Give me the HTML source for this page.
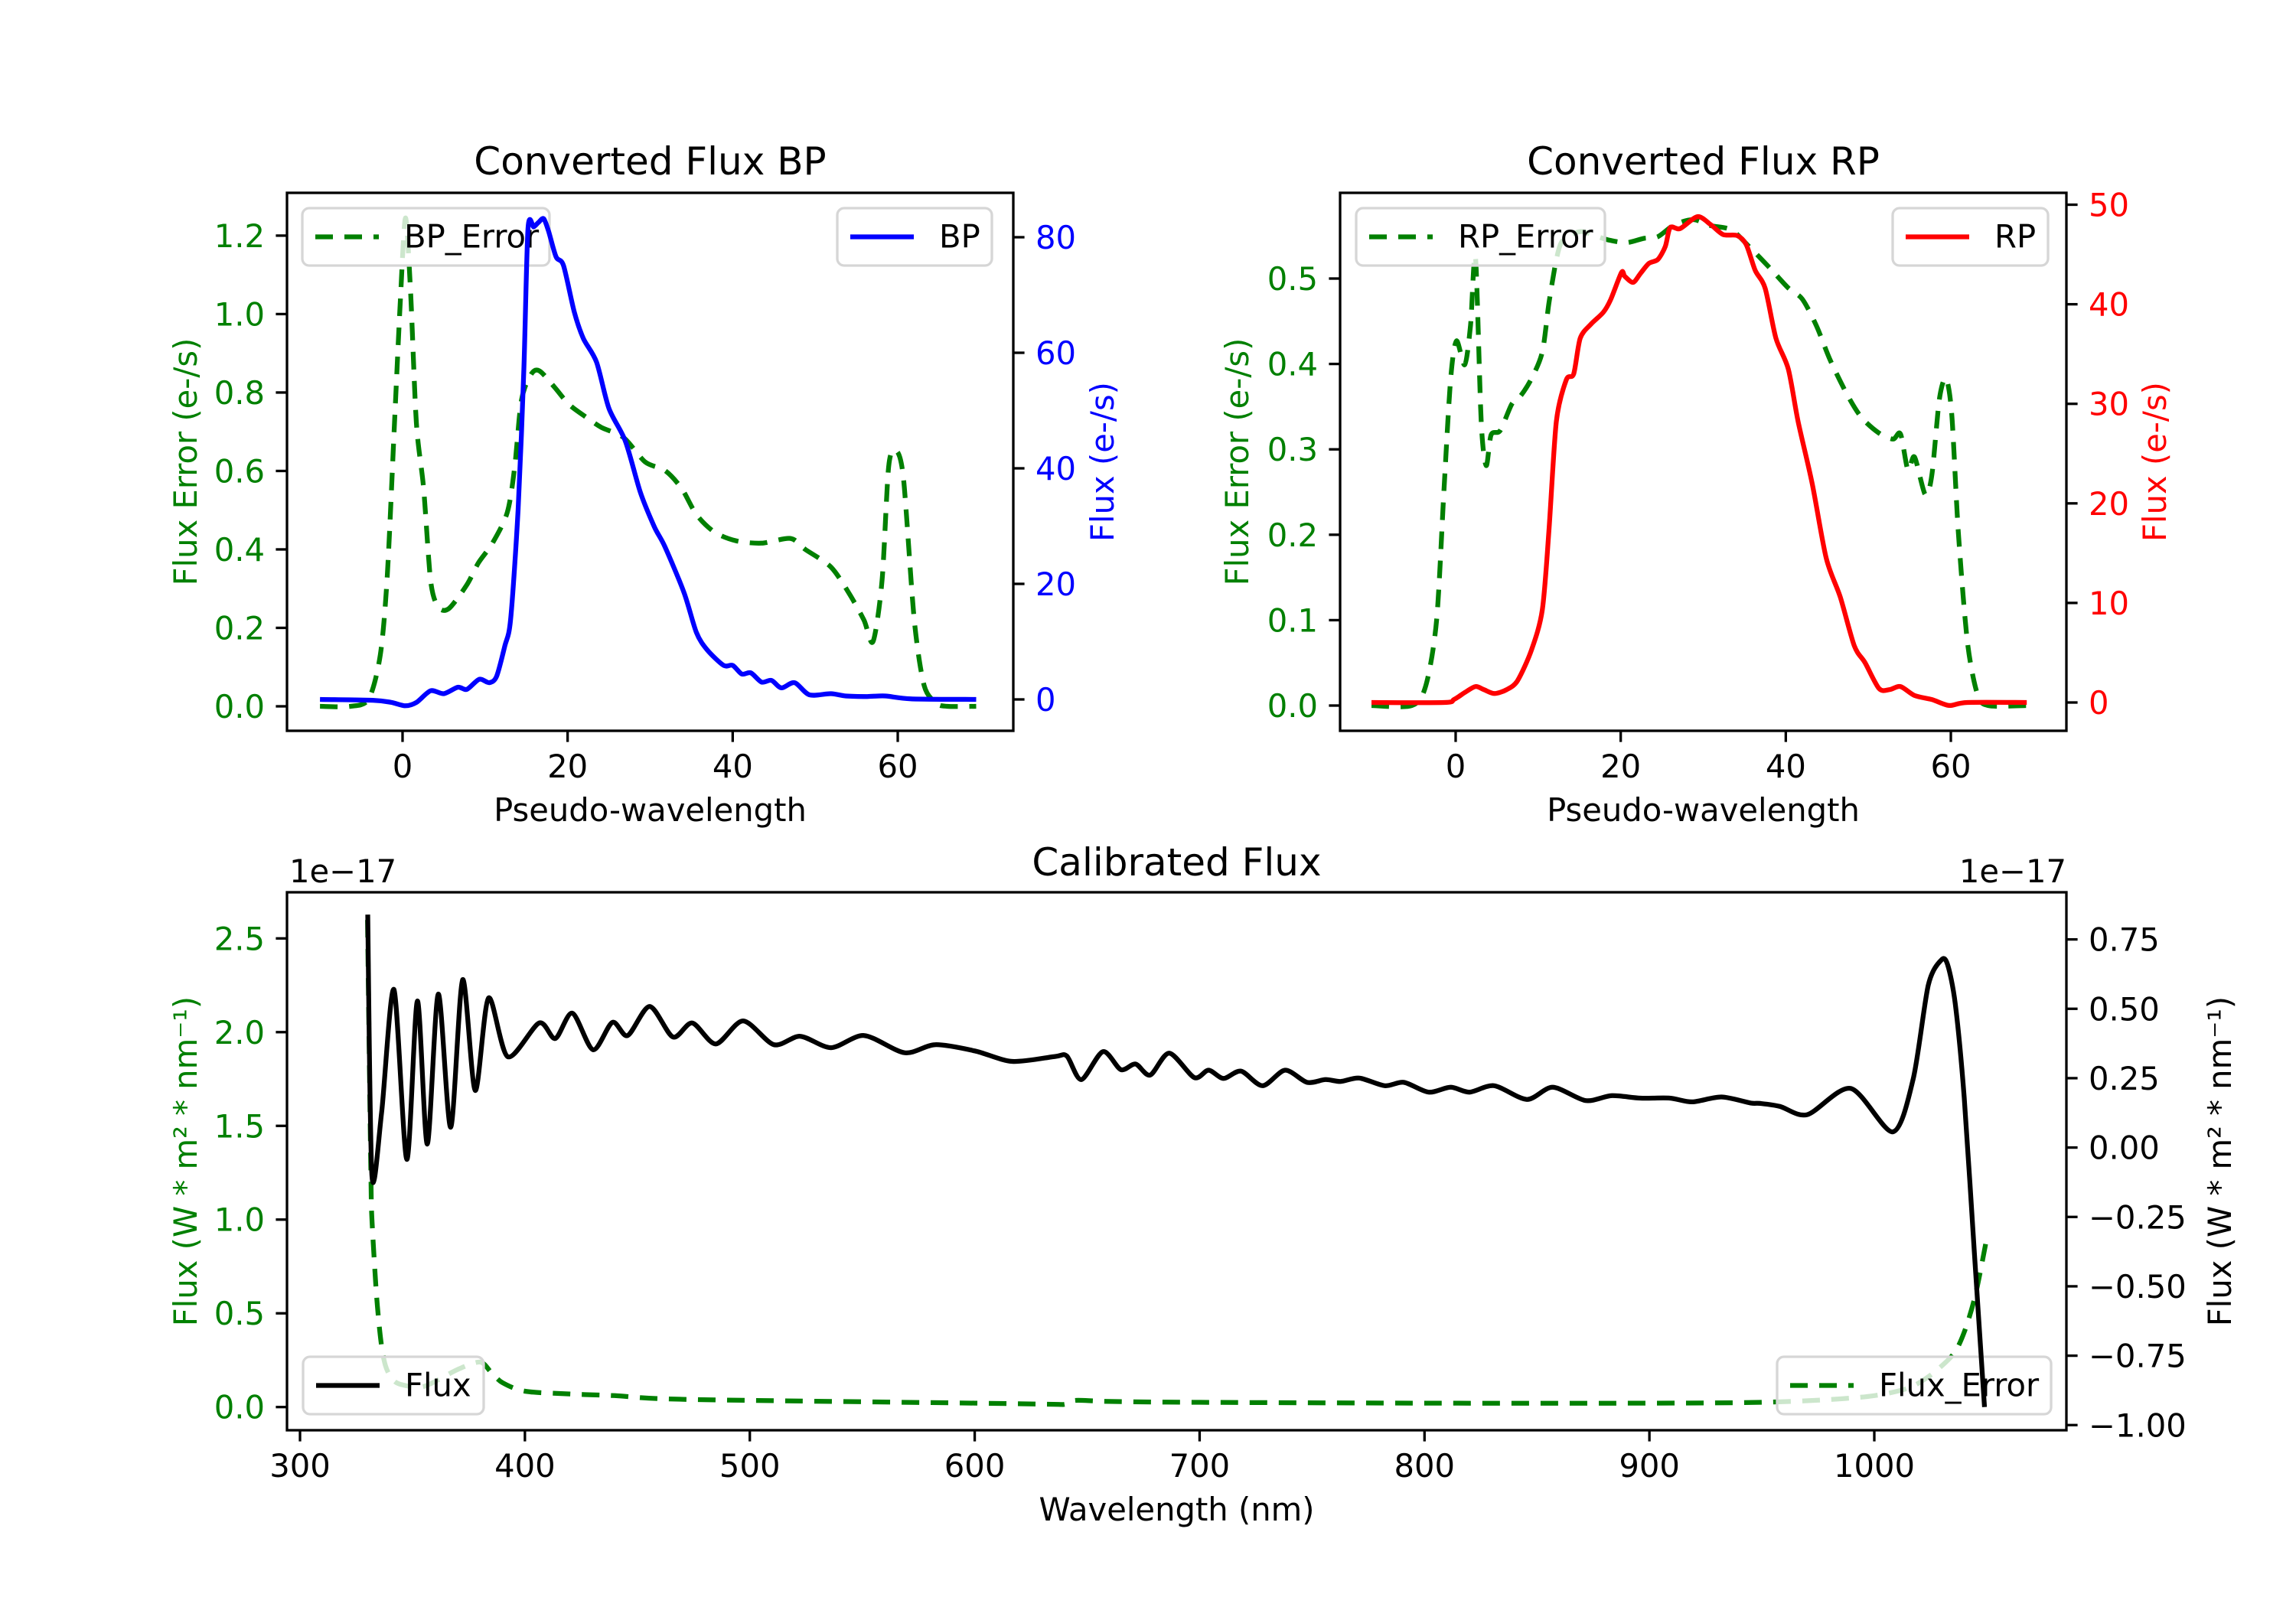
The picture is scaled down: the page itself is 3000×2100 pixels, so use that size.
<!DOCTYPE html>
<html><head><meta charset="utf-8"><style>
html,body{margin:0;padding:0;background:#fff}
svg{display:block}
text{font-family:"DejaVu Sans","Liberation Sans",sans-serif}
</style></head><body>
<svg id="fig" xmlns="http://www.w3.org/2000/svg" width="3000" height="2100" viewBox="0 0 3000 2100">
<rect x="0" y="0" width="3000" height="2100" fill="#fff"/>
</svg>
<script>
// ---------- data: BP panel ----------
const bpX = [-10,-3.6,-1.4,0.35,1.7,3.4,5.0,6.7,7.8,9.3,10.5,11.4,12.4,13.1,14.0,14.7,15.2,15.9,16.5,17.1,17.7,18.6,19.5,20.8,21.9,23.5,25.0,27.0,28.8,30.5,31.8,34.1,35.6,36.9,38.9,40.0,41.1,42.2,43.5,44.7,45.9,47.5,49.3,51.9,53.7,56.3,58.5,61.6,69.5];
const bpFlux = [0,-0.15,-0.5,-1.1,-0.5,1.5,1.0,2.1,1.75,3.5,2.9,4.0,9.3,13.9,32.9,57.2,81.5,81.8,82.6,83.2,81.0,76.6,75.1,67.1,62.5,58.4,50.4,44.7,35.9,29.9,26.4,18.5,11.6,8.6,5.9,5.9,4.4,4.6,3.0,3.3,2.0,2.9,0.8,1.0,0.6,0.5,0.6,0.1,0];
const bpErrX = [-10,-6.3,-4.1,-2.7,-1.85,-0.97,-0.26,0.35,0.97,1.67,2.55,3.4,4.3,5.6,7.8,9.2,10.9,12.7,13.6,14.4,15.6,16.6,18.4,20.2,22.4,24.1,26.8,29.4,31.8,33.8,35.6,37.8,40.4,43.5,47.0,48.8,51.9,54.1,55.9,57.0,58.1,58.9,59.8,60.7,62.0,63.2,64.7,66,69.5];
const bpErr = [0,0,0.019,0.131,0.332,0.724,1.038,1.245,1.06,0.724,0.556,0.321,0.254,0.249,0.31,0.366,0.416,0.495,0.612,0.78,0.847,0.855,0.814,0.769,0.735,0.711,0.685,0.623,0.601,0.556,0.489,0.444,0.422,0.416,0.428,0.40,0.355,0.288,0.22,0.165,0.321,0.612,0.652,0.579,0.22,0.053,0.008,0,0];
// ---------- data: RP panel ----------
const rpX = [-10.2,-1.4,-0.2,1.1,2.4,3.4,4.7,6.2,7.5,9.2,10.5,11.3,12.2,13.4,14.3,15.1,16.4,17.9,18.8,20.1,20.5,21.5,22.4,23.4,24.5,25.4,26.0,27.2,29.3,30.9,32.4,34.1,35.2,36.3,37.5,38.8,40.3,41.5,43.2,44.9,46.6,48.3,49.6,51.3,52.6,53.9,55.6,57.7,59.8,62.0,69.2];
const rpFlux = [0,0,0.3,1.0,1.6,1.3,0.9,1.3,2.2,5.3,9.3,17.2,28.2,32.4,33.0,36.6,38.0,39.2,40.5,43.2,42.8,42.2,43.1,44.1,44.5,45.8,47.7,47.6,48.8,48.0,47.0,46.9,46.0,43.4,41.6,36.6,33.5,28.2,22.0,14.5,10.6,5.7,4.0,1.4,1.3,1.6,0.7,0.3,-0.3,0,0];
const rpErrX = [-10.2,-5.3,-3.6,-2.3,-1.4,-0.6,0.1,1.1,1.8,2.4,3.1,3.7,4.3,5.4,6.8,7.9,9.2,10.5,11.3,12.2,13.0,15.1,16.9,18.6,20.7,22.8,24.5,26.5,28.8,30.9,33.4,35.6,38.1,40.3,42.0,43.7,45.4,47.5,49.2,51.3,53.0,53.9,54.8,55.6,56.9,57.7,58.6,59.4,60.1,60.9,62.0,63.2,64.5,69.2];
const rpErr = [0,0,0.024,0.101,0.255,0.383,0.427,0.399,0.445,0.525,0.332,0.281,0.317,0.322,0.353,0.363,0.383,0.414,0.471,0.522,0.545,0.555,0.55,0.545,0.542,0.547,0.549,0.563,0.569,0.562,0.557,0.537,0.512,0.489,0.476,0.445,0.404,0.363,0.337,0.319,0.312,0.318,0.276,0.291,0.247,0.27,0.358,0.383,0.342,0.204,0.075,0.014,0,0];
// ---------- data: calibrated panel ----------
const calWl = [330.1,332.0,336.3,341.8,347.5,352.2,356.6,361.5,367.0,372.3,377.9,383.8,392.4,406.3,413.5,421.1,430.3,438.9,445.7,455.5,465.8,474.4,484.9,497.0,510.7,522.4,536.1,550.8,568.8,582.4,600,616.7,635.7,641,647.4,657,665,671.5,678,686.5,697.6,704,710.6,718.4,728,738,747.8,756,762.7,771,782.3,790.8,801.8,811.6,820,831,845.5,857,871.6,883.3,896,909,919,932,945,949.2,958,970.2,989.5,1008.2,1017.3,1024,1029.8,1032.6,1036,1040,1044.5,1049];
const calFlux = [2.627,1.233,1.574,2.227,1.321,2.166,1.403,2.203,1.493,2.28,1.689,2.182,1.869,2.049,1.966,2.101,1.906,2.052,1.982,2.137,1.974,2.049,1.937,2.06,1.933,1.978,1.917,1.982,1.89,1.933,1.90,1.844,1.87,1.872,1.747,1.896,1.80,1.83,1.771,1.888,1.758,1.797,1.753,1.792,1.714,1.797,1.732,1.747,1.737,1.755,1.714,1.732,1.68,1.706,1.68,1.714,1.641,1.706,1.635,1.661,1.648,1.648,1.628,1.654,1.622,1.62,1.604,1.56,1.70,1.468,1.75,2.25,2.385,2.36,2.151,1.65,0.82,0.0];
const errWl = [330,331.5,332,334,336,338,341,345,355,370,380,385,390,400,420,440,460,500,600,635,640,645,660,700,800,900,950,980,1000,1015,1025,1035,1040,1045,1050];
const calErr = [0.82,-0.09,-0.26,-0.53,-0.699,-0.786,-0.834,-0.854,-0.861,-0.80,-0.773,-0.81,-0.847,-0.878,-0.888,-0.894,-0.905,-0.911,-0.921,-0.925,-0.925,-0.911,-0.915,-0.918,-0.921,-0.921,-0.918,-0.908,-0.894,-0.867,-0.82,-0.746,-0.665,-0.53,-0.327];
// ---------- ticks ----------
const pwTicks = [0,20,40,60];
const bpErrTicks = [0,0.2,0.4,0.6,0.8,1.0,1.2];
const bpFluxTicks = [0,20,40,60,80];
const rpErrTicks = [0,0.1,0.2,0.3,0.4,0.5];
const rpFluxTicks = [0,10,20,30,40,50];
const wlTicks = [300,400,500,600,700,800,900,1000];
const calLeftTicks = [0,0.5,1.0,1.5,2.0,2.5];
const calRightTicks = [-1.0,-0.75,-0.5,-0.25,0,0.25,0.5,0.75];

const NS='http://www.w3.org/2000/svg';
const svg=document.getElementById('fig');
function mk(tag,attrs,parent,txt){const e=document.createElementNS(NS,tag);for(const k in attrs)e.setAttribute(k,attrs[k]);if(txt!==undefined)e.textContent=txt;(parent||svg).appendChild(e);return e;}
function lin(d0,d1,p0,p1){return v=>p0+(v-d0)*(p1-p0)/(d1-d0);}
function smooth(pts){let d='M'+pts[0][0].toFixed(1)+','+pts[0][1].toFixed(1);
 for(let i=0;i<pts.length-1;i++){const p0=pts[i-1]||pts[i],p1=pts[i],p2=pts[i+1],p3=pts[i+2]||p2;const t=0.14;
  const c1x=p1[0]+(p2[0]-p0[0])*t,c1y=p1[1]+(p2[1]-p0[1])*t,c2x=p2[0]-(p3[0]-p1[0])*t,c2y=p2[1]-(p3[1]-p1[1])*t;
  d+='C'+c1x.toFixed(1)+','+c1y.toFixed(1)+' '+c2x.toFixed(1)+','+c2y.toFixed(1)+' '+p2[0].toFixed(1)+','+p2[1].toFixed(1);}
 return d;}
const FS=41.7, LW=6.25, DASH='23 15';
let clipN=0;
function clip(x0,y0,x1,y1){const id='c'+(clipN++);const cp=mk('clipPath',{id:id});mk('rect',{x:x0,y:y0,width:x1-x0,height:y1-y0},cp);return 'url(#'+id+')';}
function series(xs,ys,sx,sy,color,dashed,cl,name){const pts=xs.map((x,i)=>[sx(x),sy(ys[i])]);
 const p=mk('path',{d:smooth(pts),fill:'none',stroke:color,'stroke-width':LW,'stroke-linejoin':'round','clip-path':cl});
 if(dashed)p.setAttribute('stroke-dasharray',DASH);
 
 
 return p;}
function legend(x,y,w,h,label,color,dashed,name){const g=mk('g',{});
 
 
 mk('rect',{x:x,y:y,width:w,height:h,rx:9,fill:'#fff','fill-opacity':0.8,stroke:'#d6d6d6','stroke-width':3.3},g);
 const cy=y+h/2;const l=mk('line',{x1:x+17,y1:cy,x2:x+100,y2:cy,stroke:color,'stroke-width':LW},g);
 if(dashed)l.setAttribute('stroke-dasharray',DASH);
 mk('text',{x:x+133,y:cy+14,'font-size':FS,fill:'#000'},g,label);}
function frame(x0,y0,x1,y1,name){const r=mk('rect',{x:x0,y:y0,width:x1-x0,height:y1-y0,fill:'none',stroke:'#000','stroke-width':3.3});
 
 }
function yTicks(ticks,sy,x,side,color,fmt,name){const g=mk('g',{});
 
 
 ticks.forEach(t=>{const y=sy(t);const dx=side<0?-14.6:14.6;
  mk('line',{x1:x,y1:y,x2:x+dx,y2:y,stroke:'#000','stroke-width':3.3},g);
  mk('text',{x:x+(side<0?-29:29),y:y+15,'font-size':FS,fill:color,'text-anchor':side<0?'end':'start'},g,fmt(t));});}
function xTicks(ticks,sx,y,fmt,name){const g=mk('g',{});
 
 
 ticks.forEach(t=>{const x=sx(t);mk('line',{x1:x,y1:y,x2:x,y2:y+14.6,stroke:'#000','stroke-width':3.3},g);
  mk('text',{x:x,y:y+61,'font-size':FS,fill:'#000','text-anchor':'middle'},g,fmt(t));});}
function txt(x,y,s,size,color,anchor,rot,name){const a={x:x,y:y,'font-size':size,fill:color,'text-anchor':anchor||'middle'};
 if(rot)a.transform='rotate('+rot+' '+x+' '+y+')';const t=mk('text',a,svg,s);
 
 return t;}
const minus=s=>s.replace('-','\u2212');

// ---------- BP panel ----------
(function(){const X0=375,X1=1324,Y0=252,Y1=955;
 const sx=lin(-14,74,X0,X1), syL=lin(0,1.2,923,307.9), syR=lin(0,80,914,310);
 const cl=clip(X0,Y0,X1,Y1);
 series(bpErrX,bpErr,sx,syL,'#008000',true,cl,'bp-error-line');
 legend(395,272,323,75,'BP_Error','#008000',true,'bp-error-legend');
 series(bpX,bpFlux,sx,syR,'#0000ff',false,cl,'bp-flux-line');
 legend(1094,272,202,75,'BP','#0000ff',false,'bp-legend');
 frame(X0,Y0,X1,Y1,'bp-axes-frame');
 yTicks(bpErrTicks,syL,X0,-1,'#008000',t=>t.toFixed(1),'bp-left-ticks');
 yTicks(bpFluxTicks,syR,X1,1,'#0000ff',t=>String(t),'bp-right-ticks');
 xTicks(pwTicks,sx,Y1,t=>String(t),'bp-x-ticks');
 txt((X0+X1)/2,228,'Converted Flux BP',50,'#000','middle',0,'bp-title');
 txt((X0+X1)/2,Y1+118,'Pseudo-wavelength',FS,'#000','middle',0,'bp-x-label');
 txt(257,(Y0+Y1)/2,'Flux Error (e-/s)',FS,'#008000','middle',-90,'bp-left-label');
 txt(1455,(Y0+Y1)/2,'Flux (e-/s)',FS,'#0000ff','middle',-90,'bp-right-label');
})();
// ---------- RP panel ----------
(function(){const X0=1751,X1=2700,Y0=252,Y1=955;
 const sx=lin(-14,74,X0,X1), syL=lin(0,0.5,922,364), syR=lin(0,50,918,267.5);
 const cl=clip(X0,Y0,X1,Y1);
 series(rpErrX,rpErr,sx,syL,'#008000',true,cl,'rp-error-line');
 legend(1772,272,325,75,'RP_Error','#008000',true,'rp-error-legend');
 series(rpX,rpFlux,sx,syR,'#ff0000',false,cl,'rp-flux-line');
 legend(2473,272,203,75,'RP','#ff0000',false,'rp-legend');
 frame(X0,Y0,X1,Y1,'rp-axes-frame');
 yTicks(rpErrTicks,syL,X0,-1,'#008000',t=>t.toFixed(1),'rp-left-ticks');
 yTicks(rpFluxTicks,syR,X1,1,'#ff0000',t=>String(t),'rp-right-ticks');
 xTicks(pwTicks,sx,Y1,t=>String(t),'rp-x-ticks');
 txt((X0+X1)/2,228,'Converted Flux RP',50,'#000','middle',0,'rp-title');
 txt((X0+X1)/2,Y1+118,'Pseudo-wavelength',FS,'#000','middle',0,'rp-x-label');
 txt(1631,(Y0+Y1)/2,'Flux Error (e-/s)',FS,'#008000','middle',-90,'rp-left-label');
 txt(2830,(Y0+Y1)/2,'Flux (e-/s)',FS,'#ff0000','middle',-90,'rp-right-label');
})();
// ---------- Calibrated panel ----------
(function(){const X0=375,X1=2700,Y0=1166,Y1=1869;
 const sx=lin(300,1000,392,2449), syL=lin(0,2.5,1838.7,1226.3), syR=lin(0,0.75,1499.6,1227.6);
 const cl=clip(X0,Y0,X1,Y1);
 series(errWl,calErr,sx,syR,'#008000',true,cl,'flux-error-line');
 legend(2322,1773,358,75,'Flux_Error','#008000',true,'flux-error-legend');
 series(calWl,calFlux,sx,syL,'#000000',false,cl,'flux-line');
 legend(396,1773,236,75,'Flux','#000000',false,'flux-legend');
 frame(X0,Y0,X1,Y1,'calibrated-axes-frame');
 yTicks(calLeftTicks,syL,X0,-1,'#008000',t=>t.toFixed(1),'calibrated-left-ticks');
 yTicks(calRightTicks,syR,X1,1,'#000',t=>minus(t.toFixed(2)),'calibrated-right-ticks');
 xTicks(wlTicks,sx,Y1,t=>String(t),'calibrated-x-ticks');
 txt((X0+X1)/2,1144,'Calibrated Flux',50,'#000','middle',0,'calibrated-title');
 txt((X0+X1)/2,Y1+118,'Wavelength (nm)',FS,'#000','middle',0,'calibrated-x-label');
 txt(378,1153,'1e\u221217',FS,'#000','start',0,'left-offset-text');
 txt(2700,1153,'1e\u221217',FS,'#000','end',0,'right-offset-text');
 txt(257,(Y0+Y1)/2,'Flux (W * m\u00b2 * nm\u207b\u00b9)',FS,'#008000','middle',-90,'calibrated-left-label');
 txt(2915,(Y0+Y1)/2,'Flux (W * m\u00b2 * nm\u207b\u00b9)',FS,'#000','middle',-90,'calibrated-right-label');
})();
</script>
</body></html>
